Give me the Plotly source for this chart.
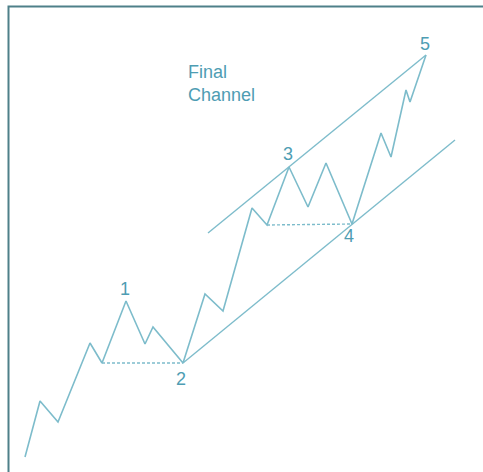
import plotly.graph_objects as go

# Elliott wave path (time, price) — price measured upward
wave_time = [25, 40, 58, 90, 102, 126, 145, 153, 183, 205, 223, 252, 267, 289, 308, 326, 352, 381, 391, 406, 410, 426]
wave_price = [15, 71, 50, 129, 109, 171, 128, 145, 109, 178, 161, 264, 247, 305, 265, 309, 248, 339, 315, 382, 370, 417]

# Channel lines
upper_time = [208, 426]
upper_price = [239, 417]
lower_time = [183, 455]
lower_price = [109, 332]

# Dashed support levels
dash1_time = [102, 183]
dash1_price = [109, 109]
dash2_time = [267, 352]
dash2_price = [247, 248]

# Wave labels
label_text = ["1", "2", "3", "4", "5"]
label_time = [125, 181, 288, 349, 425]
label_price = [182, 92, 317, 235, 427]

line_color = "#7dbccb"
text_color = "#4e9db3"

fig = go.Figure()
fig.add_trace(go.Scatter(x=wave_time, y=wave_price, mode="lines",
                         line=dict(color=line_color, width=1.6), hoverinfo="skip"))
fig.add_trace(go.Scatter(x=upper_time, y=upper_price, mode="lines",
                         line=dict(color=line_color, width=1.4), hoverinfo="skip"))
fig.add_trace(go.Scatter(x=lower_time, y=lower_price, mode="lines",
                         line=dict(color=line_color, width=1.4), hoverinfo="skip"))
for tx, py in [(dash1_time, dash1_price), (dash2_time, dash2_price)]:
    fig.add_trace(go.Scatter(x=tx, y=py, mode="lines",
                             line=dict(color=line_color, width=1.4, dash="3px,2px"),
                             hoverinfo="skip"))
fig.add_trace(go.Scatter(x=label_time, y=label_price, mode="text", text=label_text,
                         textfont=dict(family="Liberation Sans, Arial", size=18, color=text_color),
                         hoverinfo="skip"))

fig.add_annotation(x=186, y=389, xref="x", yref="y", text="Final<br>Channel",
                   showarrow=False, xanchor="left", yanchor="middle", align="left",
                   font=dict(family="Liberation Sans, Arial", size=18, color=text_color))

W, H = 483, 472
fig.add_shape(type="rect", xref="paper", yref="paper",
              x0=8.5 / W, x1=1.2, y0=-0.2, y1=1 - 6.5 / H,
              line=dict(color="#4f8089", width=2), fillcolor="rgba(0,0,0,0)")

fig.update_layout(
    width=W, height=H, margin=dict(l=0, r=0, t=0, b=0),
    paper_bgcolor="white", plot_bgcolor="white", showlegend=False,
    xaxis=dict(range=[0, W], visible=False, fixedrange=True),
    yaxis=dict(range=[0, H], visible=False, fixedrange=True),
)
fig.write_html("out.html", config={"displayModeBar": False},
               post_script="document.body.style.margin='0';document.body.style.padding='0';")
